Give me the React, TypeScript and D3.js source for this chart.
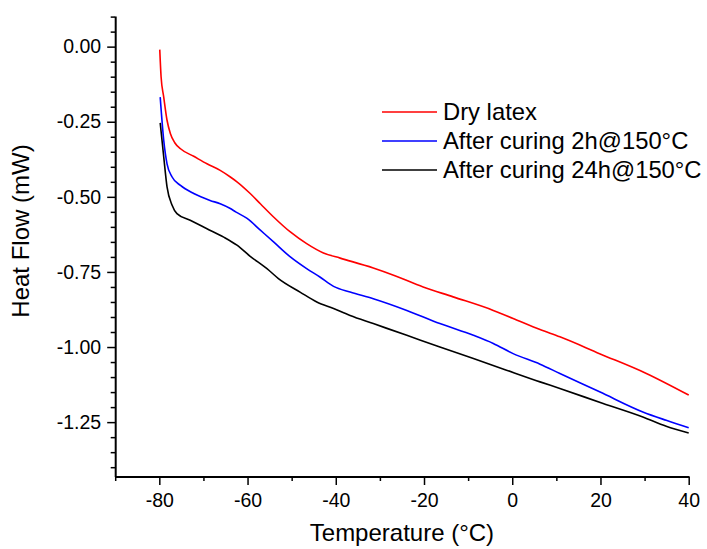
import React, { useRef, useEffect } from 'react';
import * as d3 from 'd3';

// readings: temperature (°C) / heat flow (mW)
const dryT = [-79.9, -79.6, -79.0, -78.25, -77.5, -76.5, -75.2, -72.2, -69.2, -66.2, -63.9, -62.4, -59.4, -57.1, -54.1, -50.3, -46.6, -42.8, -39, -31.5, -26.9, -20.2, -13.4, -4.3, 0.2, 6.3, 10.8, 19.8, 30.4, 40];
const dryHF = [-0.01, -0.1, -0.168, -0.245, -0.289, -0.32, -0.34, -0.365, -0.39, -0.412, -0.434, -0.45, -0.489, -0.523, -0.567, -0.617, -0.656, -0.687, -0.704, -0.737, -0.761, -0.8, -0.833, -0.878, -0.905, -0.942, -0.966, -1.022, -1.088, -1.16];

const cure2T = [-79.8, -79.0, -78.25, -77.1, -75.2, -72.2, -68.5, -66.2, -63.9, -62.7, -60.1, -57.1, -54.1, -50.3, -46.6, -43.6, -40.5, -36.75, -31.5, -23.9, -16.4, -8.8, -4.3, 0.2, 6.3, 10.8, 19.8, 29.6, 34.9, 40];
const cure2HF = [-0.168, -0.312, -0.39, -0.434, -0.462, -0.489, -0.512, -0.523, -0.539, -0.55, -0.572, -0.611, -0.65, -0.7, -0.739, -0.767, -0.798, -0.817, -0.839, -0.878, -0.922, -0.961, -0.988, -1.022, -1.057, -1.088, -1.149, -1.216, -1.244, -1.269];

const cure24T = [-79.8, -79.0, -78.25, -77.1, -76.0, -73.0, -69.2, -65.4, -62.4, -59.4, -55.6, -53.0, -48.1, -44.3, -40.5, -36.75, -31.5, -23.9, -16.4, -8.8, -1.3, 6.3, 10.8, 20.6, 29.6, 34.9, 40];
const cure24HF = [-0.254, -0.367, -0.467, -0.528, -0.556, -0.578, -0.606, -0.634, -0.661, -0.698, -0.739, -0.772, -0.817, -0.85, -0.872, -0.895, -0.922, -0.961, -1.0, -1.038, -1.077, -1.116, -1.138, -1.188, -1.233, -1.264, -1.286];

const seriesNames = ['Dry latex', 'After curing 2h@150°C', 'After curing 24h@150°C'];
const seriesColors = ['#ff0000', '#0000ff', '#000000'];

const xTicks = [-80, -60, -40, -20, 0, 20, 40];
const xTickLabels = ['-80', '-60', '-40', '-20', '0', '20', '40'];
const yTicks = [0, -0.25, -0.5, -0.75, -1, -1.25];
const yTickLabels = ['0.00', '-0.25', '-0.50', '-0.75', '-1.00', '-1.25'];

const FONT = "'Liberation Sans', Arial, sans-serif";

function App() {
  const ref = useRef<SVGSVGElement>(null);

  useEffect(() => {
    const width = 707;
    const height = 549;

    const x = d3.scaleLinear().domain([-90, 40]).range([115.2, 688.7]);
    const y = d3.scaleLinear().domain([-1.431, 0.102]).range([476.5, 16]);

    const svg = d3.select(ref.current);
    svg.selectAll('*').remove();
    svg.attr('width', width).attr('height', height);

    const series = [
      dryT.map((t, i) => [t, dryHF[i]]),
      cure2T.map((t, i) => [t, cure2HF[i]]),
      cure24T.map((t, i) => [t, cure24HF[i]]),
    ];

    const line = d3.line<number[]>()
      .x(d => x(d[0]))
      .y(d => y(d[1]))
      .curve(d3.curveMonotoneX);

    svg.selectAll('path.curve')
      .data(series)
      .join('path')
      .attr('class', 'curve')
      .attr('fill', 'none')
      .attr('stroke', (d, i) => seriesColors[i])
      .attr('stroke-width', 1.6)
      .attr('d', d => line(d));

    // minor ticks
    const xMinor = d3.range(-90, 41, 10).filter(v => !xTicks.includes(v));
    const yMinor = d3.range(2, -29, -1).map(v => v * 0.05).filter(v => !yTicks.some(t => Math.abs(t - v) < 1e-6));

    svg.append('g')
      .attr('transform', `translate(0,${y.range()[0]})`)
      .call(d3.axisBottom(x).tickValues(xMinor).tickSize(4.5).tickFormat(() => ''))
      .call(g => g.select('.domain').remove())
      .call(g => g.selectAll('.tick line').attr('stroke-width', 1.5));

    svg.append('g')
      .attr('transform', `translate(${x.range()[0]},0)`)
      .call(d3.axisLeft(y).tickValues(yMinor).tickSize(4.5).tickFormat(() => ''))
      .call(g => g.select('.domain').remove())
      .call(g => g.selectAll('.tick line').attr('stroke-width', 1.5));

    svg.append('g')
      .attr('transform', `translate(0,${y.range()[0]})`)
      .call(d3.axisBottom(x).tickValues(xTicks).tickSize(8.5).tickSizeOuter(0).tickPadding(8)
        .tickFormat((d, i) => xTickLabels[i]))
      .call(g => g.select('.domain').attr('stroke-width', 2))
      .call(g => g.selectAll('.tick line').attr('stroke-width', 1.5))
      .call(g => g.selectAll('text').attr('font-size', 19.5).attr('font-family', FONT).attr('fill', '#000'));

    svg.append('g')
      .attr('transform', `translate(${x.range()[0]},0)`)
      .call(d3.axisLeft(y).tickValues(yTicks).tickSize(8).tickSizeOuter(0).tickPadding(6)
        .tickFormat((d, i) => yTickLabels[i]))
      .call(g => g.select('.domain').attr('stroke-width', 2))
      .call(g => g.selectAll('.tick line').attr('stroke-width', 1.5))
      .call(g => g.selectAll('text').attr('font-size', 19.5).attr('font-family', FONT).attr('fill', '#000'));

    svg.append('text')
      .attr('x', (x.range()[0] + x.range()[1]) / 2)
      .attr('y', 541)
      .attr('text-anchor', 'middle')
      .attr('font-family', FONT)
      .attr('font-size', 24)
      .text('Temperature (°C)');

    svg.append('text')
      .attr('transform', 'translate(29,231) rotate(-90)')
      .attr('text-anchor', 'middle')
      .attr('font-family', FONT)
      .attr('font-size', 24)
      .text('Heat Flow (mW)');

    // legend
    const legend = svg.append('g').attr('transform', 'translate(382,112)');
    const rows = legend.selectAll('g')
      .data(seriesNames)
      .join('g')
      .attr('transform', (d, i) => `translate(0,${i * 29})`);
    rows.append('line')
      .attr('x1', 0).attr('x2', 55)
      .attr('stroke', (d, i) => seriesColors[i])
      .attr('stroke-width', 1.6);
    rows.append('text')
      .attr('x', 61)
      .attr('y', 8)
      .attr('font-family', FONT)
      .attr('font-size', 23.8)
      .text(d => d);
  }, []);

  return <svg ref={ref} style={{ position: 'absolute', left: 0, top: 0 }}></svg>;
}

export default App;
